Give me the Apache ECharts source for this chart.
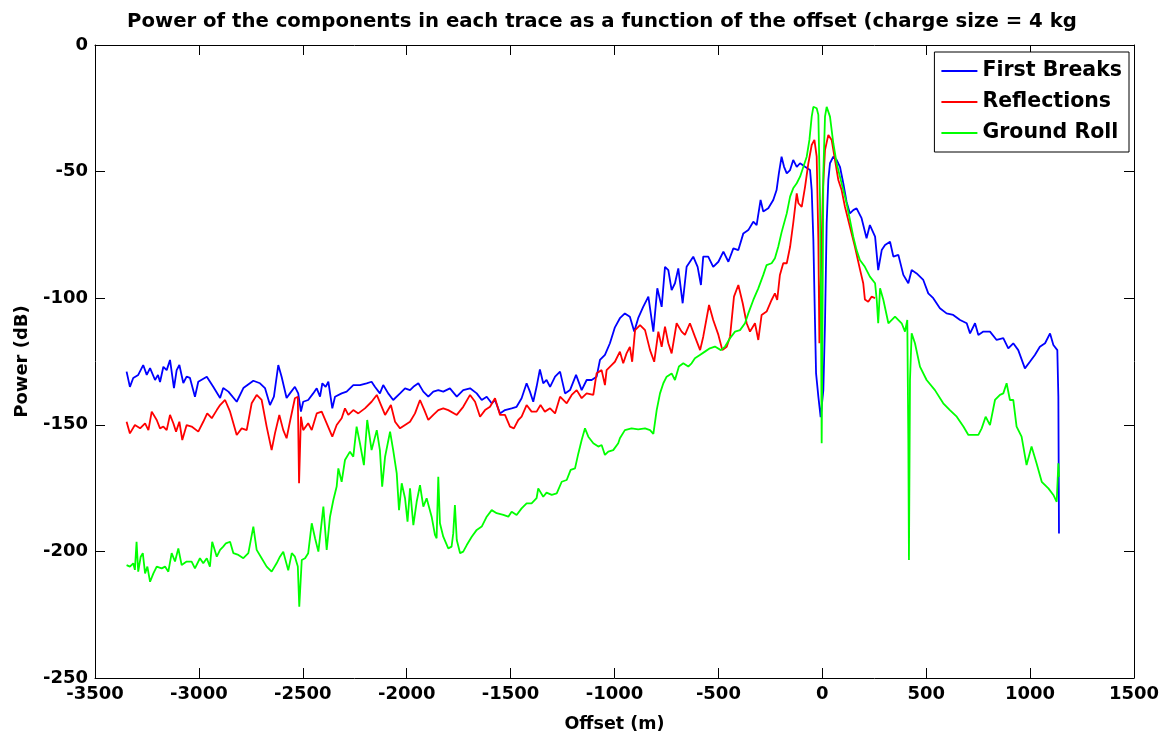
<!DOCTYPE html>
<html>
<head>
<meta charset="utf-8">
<script src="https://cdn.jsdelivr.net/npm/echarts@6/dist/echarts.min.js"></script>
<style>
html,body{margin:0;padding:0;background:#fff;}
#chart{width:1169px;height:745px;}
</style>
</head>
<body>
<div id="chart"></div>
<script>
// ---- Data (offset in m, power in dB) ----
var seriesNames = ['First Breaks', 'Reflections', 'Ground Roll'];
var xTicks = [-3500, -3000, -2500, -2000, -1500, -1000, -500, 0, 500, 1000, 1500];
var yTicks = [-250, -200, -150, -100, -50, 0];

var fbOffset = [-3348,-3332,-3316,-3292,-3268,-3251,-3235,-3211,-3197,-3187,-3171,-3155,-3139,-3120,-3107,-3094,-3075,-3059,-3043,-3019,-3003,-2962,-2931,-2898,-2883,-2858,-2818,-2786,-2738,-2706,-2682,-2658,-2639,-2618,-2602,-2578,-2562,-2538,-2522,-2509,-2498,-2474,-2450,-2433,-2417,-2406,-2390,-2377,-2358,-2345,-2313,-2289,-2257,-2225,-2193,-2169,-2153,-2129,-2113,-2089,-2065,-2032,-2008,-1984,-1968,-1944,-1920,-1896,-1872,-1848,-1824,-1792,-1759,-1728,-1695,-1663,-1639,-1615,-1591,-1575,-1551,-1527,-1495,-1471,-1447,-1423,-1407,-1391,-1375,-1359,-1343,-1327,-1310,-1286,-1262,-1238,-1214,-1185,-1158,-1134,-1110,-1086,-1070,-1046,-1022,-998,-974,-950,-926,-905,-886,-862,-837,-813,-794,-773,-757,-741,-725,-709,-693,-672,-653,-621,-600,-584,-573,-549,-525,-500,-476,-452,-428,-404,-380,-356,-332,-316,-297,-284,-260,-236,-220,-209,-196,-184,-171,-155,-140,-123,-107,-83,-59,-51,-43,-35,-30,-19,-8,5,13,21,29,37,53,69,85,101,117,133,149,165,189,213,229,254,269,286,302,326,342,366,390,414,430,454,486,510,534,566,598,630,663,695,711,735,751,775,807,839,871,895,919,943,975,999,1023,1047,1072,1096,1112,1131,1136,1139];
var fbPower = [-129.0,-135.0,-131.5,-130.3,-126.4,-130.3,-127.6,-132.3,-130.3,-133.1,-127.1,-128.4,-124.4,-135.5,-128.4,-126.4,-133.5,-131.0,-131.5,-138.9,-133.0,-131.0,-135.0,-139.4,-135.5,-136.9,-140.9,-135.5,-132.6,-133.6,-135.5,-142.2,-138.9,-126.4,-131.0,-139.4,-137.6,-135.0,-137.6,-144.8,-140.9,-140.2,-137.6,-135.6,-138.9,-133.6,-135.0,-133.0,-143.5,-138.9,-137.6,-136.9,-134.3,-134.3,-133.6,-133.0,-135.0,-137.6,-134.3,-137.6,-140.2,-137.6,-135.6,-136.3,-135.0,-133.6,-136.9,-138.9,-136.9,-136.3,-136.9,-135.6,-138.9,-136.3,-135.6,-137.6,-140.2,-138.9,-141.5,-140.2,-145.5,-144.2,-143.5,-142.9,-139.5,-133.6,-136.9,-140.9,-135.0,-128.1,-133.6,-132.3,-135.0,-131.0,-129.0,-137.6,-136.3,-130.3,-136.3,-132.3,-132.3,-131.0,-124.4,-122.4,-117.8,-111.5,-107.9,-106.0,-107.3,-113.2,-107.9,-103.4,-99.4,-113.2,-96.1,-103.4,-87.6,-88.9,-96.8,-94.1,-88.2,-102.0,-87.6,-83.6,-87.6,-94.8,-83.6,-83.6,-87.6,-85.6,-81.6,-85.6,-80.3,-81.0,-74.4,-73.1,-69.8,-71.1,-61.2,-65.8,-64.5,-61.2,-57.3,-50.7,-44.1,-48.1,-50.7,-49.4,-45.4,-48.1,-46.7,-48.1,-49.4,-57.3,-77.0,-109.9,-129.7,-138.9,-147.0,-136.3,-109.9,-70.4,-53.3,-46.7,-44.1,-45.4,-48.1,-54.6,-62.0,-66.5,-65.2,-64.5,-68.4,-76.3,-71.1,-75.7,-88.9,-81.0,-79.0,-77.7,-83.6,-82.9,-90.8,-94.1,-88.9,-90.2,-92.8,-98.1,-100.0,-104.0,-106.0,-106.6,-108.6,-109.9,-113.9,-109.9,-114.5,-113.2,-113.2,-116.5,-115.8,-119.8,-117.8,-120.5,-127.7,-125.1,-122.4,-119.2,-117.8,-113.9,-118.5,-120.5,-138.9,-192.9];

var rfOffset = [-3348,-3332,-3308,-3283,-3259,-3243,-3227,-3203,-3187,-3171,-3155,-3139,-3123,-3110,-3094,-3080,-3059,-3035,-3003,-2979,-2960,-2938,-2914,-2898,-2874,-2850,-2818,-2794,-2770,-2746,-2722,-2698,-2674,-2650,-2634,-2613,-2594,-2578,-2562,-2538,-2524,-2518,-2509,-2498,-2474,-2457,-2433,-2409,-2385,-2358,-2337,-2313,-2297,-2281,-2257,-2233,-2201,-2169,-2144,-2120,-2104,-2076,-2056,-2032,-2008,-1984,-1960,-1936,-1915,-1896,-1872,-1848,-1824,-1800,-1759,-1728,-1695,-1671,-1647,-1623,-1599,-1575,-1551,-1527,-1503,-1484,-1463,-1447,-1423,-1399,-1375,-1356,-1335,-1310,-1286,-1262,-1230,-1206,-1182,-1158,-1134,-1102,-1086,-1062,-1046,-1038,-1014,-998,-974,-958,-942,-926,-915,-901,-877,-853,-829,-809,-789,-773,-757,-741,-725,-701,-677,-661,-637,-613,-588,-573,-545,-525,-500,-481,-460,-444,-425,-404,-383,-364,-348,-324,-308,-292,-268,-244,-228,-217,-204,-188,-171,-155,-140,-123,-115,-99,-83,-67,-51,-38,-27,-19,-14,-7,3,13,29,45,61,77,93,109,133,157,181,197,205,221,237,254];
var rfPower = [-148.8,-153.4,-150.1,-151.4,-149.4,-152.1,-144.8,-148.1,-151.4,-150.7,-152.1,-146.1,-149.4,-152.7,-148.8,-156.0,-150.1,-150.7,-152.7,-148.8,-145.5,-147.4,-144.2,-142.2,-140.2,-144.8,-154.0,-151.4,-152.1,-141.5,-138.2,-140.2,-150.7,-160.0,-153.4,-146.1,-152.1,-155.3,-148.8,-139.5,-138.9,-173.1,-146.8,-152.1,-149.4,-152.1,-145.5,-144.8,-149.4,-154.7,-150.1,-147.4,-143.5,-146.1,-144.2,-145.5,-143.5,-140.9,-138.2,-142.9,-146.1,-142.2,-148.8,-151.4,-150.1,-148.8,-145.5,-140.2,-144.2,-148.1,-146.1,-144.2,-143.5,-144.2,-146.1,-142.9,-138.2,-140.9,-146.8,-144.2,-142.9,-139.5,-146.1,-146.1,-150.7,-151.4,-148.1,-146.8,-142.2,-144.8,-144.8,-142.2,-144.8,-143.5,-145.5,-138.9,-141.5,-138.2,-136.3,-139.5,-137.6,-138.2,-129.6,-128.4,-134.3,-128.4,-126.4,-125.1,-121.1,-125.7,-121.8,-119.2,-125.1,-112.6,-110.6,-112.6,-120.5,-125.1,-113.2,-119.2,-111.2,-117.8,-121.8,-109.9,-113.2,-114.5,-109.9,-115.2,-120.5,-115.2,-102.7,-108.6,-114.5,-120.5,-119.2,-115.2,-99.4,-94.8,-102.0,-109.9,-113.2,-109.9,-116.5,-106.6,-105.3,-100.7,-98.1,-100.7,-90.8,-86.2,-86.2,-79.7,-70.4,-58.6,-62.5,-63.9,-56.0,-46.7,-39.5,-37.5,-44.1,-77.0,-117.8,-91.5,-57.3,-41.5,-35.5,-37.5,-45.4,-53.3,-57.3,-63.9,-71.8,-79.7,-88.5,-94.1,-100.5,-101.4,-99.4,-100.0];

var grOffset = [-3348,-3332,-3316,-3308,-3300,-3292,-3280,-3270,-3259,-3248,-3235,-3219,-3203,-3179,-3163,-3147,-3131,-3115,-3099,-3083,-3059,-3035,-3019,-2995,-2979,-2962,-2947,-2936,-2914,-2898,-2883,-2870,-2850,-2834,-2810,-2786,-2762,-2738,-2722,-2698,-2674,-2650,-2626,-2610,-2594,-2570,-2553,-2538,-2524,-2517,-2505,-2489,-2474,-2457,-2441,-2425,-2401,-2385,-2369,-2353,-2337,-2329,-2313,-2297,-2273,-2257,-2241,-2225,-2206,-2190,-2169,-2144,-2129,-2118,-2104,-2080,-2065,-2048,-2037,-2024,-2008,-1996,-1984,-1968,-1952,-1936,-1920,-1904,-1880,-1864,-1856,-1848,-1840,-1824,-1800,-1784,-1776,-1768,-1759,-1743,-1728,-1711,-1687,-1663,-1639,-1615,-1591,-1567,-1535,-1511,-1495,-1471,-1447,-1423,-1399,-1375,-1367,-1343,-1327,-1302,-1278,-1254,-1230,-1211,-1190,-1174,-1158,-1142,-1126,-1102,-1078,-1062,-1046,-1030,-1006,-982,-974,-950,-918,-886,-853,-829,-813,-797,-781,-765,-749,-725,-709,-690,-669,-645,-629,-613,-589,-565,-541,-517,-488,-468,-444,-420,-396,-372,-356,-332,-308,-284,-268,-244,-228,-212,-196,-171,-155,-140,-123,-107,-91,-75,-62,-51,-43,-27,-19,-11,-6,-3,0,5,13,21,37,53,69,85,101,117,133,149,165,181,205,229,254,262,269,278,294,318,350,382,398,409,414,417,422,430,446,470,502,542,582,614,647,679,703,751,767,786,807,831,855,871,887,903,919,935,959,983,1007,1031,1056,1088,1112,1128,1136,1139];
var grPower = [-205.4,-206.0,-204.7,-207.3,-196.2,-208.0,-202.1,-200.7,-208.7,-206.0,-212.0,-208.7,-206.0,-206.7,-206.0,-208.0,-200.7,-204.0,-198.8,-205.4,-204.0,-204.0,-206.7,-202.7,-204.7,-202.7,-206.0,-196.2,-202.1,-199.4,-198.1,-196.8,-196.2,-200.7,-201.4,-202.7,-200.7,-190.2,-199.4,-202.7,-206.0,-208.0,-204.7,-202.1,-200.1,-207.5,-200.7,-202.1,-206.0,-221.8,-203.4,-202.7,-200.7,-188.9,-194.8,-200.1,-182.3,-199.4,-186.3,-179.7,-174.4,-167.2,-172.5,-163.9,-160.6,-162.6,-150.7,-157.3,-165.9,-148.1,-160.0,-152.1,-160.0,-174.4,-162.6,-152.7,-160.0,-169.2,-183.7,-173.1,-179.0,-188.3,-175.1,-189.6,-180.4,-173.8,-182.3,-179.0,-186.3,-193.5,-194.8,-170.5,-188.9,-194.2,-198.8,-198.1,-192.9,-181.7,-195.5,-200.7,-200.1,-197.5,-194.2,-191.5,-190.2,-186.3,-183.7,-184.9,-185.6,-186.3,-184.3,-185.6,-183.0,-181.0,-181.0,-179.0,-175.1,-178.4,-176.8,-177.7,-177.1,-172.5,-171.8,-167.8,-167.2,-161.3,-156.0,-151.4,-154.7,-157.3,-158.6,-158.0,-161.9,-160.6,-160.0,-157.3,-155.3,-152.1,-151.4,-151.8,-151.4,-152.1,-153.6,-144.2,-137.6,-133.6,-131.0,-129.7,-132.3,-127.0,-125.7,-127.0,-125.7,-123.7,-122.4,-121.1,-119.8,-119.1,-120.5,-119.1,-115.8,-113.2,-112.6,-109.9,-106.0,-100.7,-96.1,-90.8,-86.9,-86.2,-84.2,-79.7,-74.0,-66.5,-59.9,-56.6,-54.6,-52.0,-48.1,-44.1,-37.5,-28.3,-24.4,-25.0,-27.6,-61.2,-109.9,-157.3,-123.1,-50.7,-28.3,-24.4,-28.3,-38.8,-46.7,-52.0,-57.3,-62.5,-69.1,-75.7,-81.0,-84.9,-87.6,-91.5,-94.1,-100.7,-109.9,-96.1,-100.7,-109.9,-107.3,-109.9,-113.2,-108.6,-156.0,-203.4,-132.3,-113.9,-117.8,-127.0,-132.3,-136.3,-141.5,-144.2,-146.8,-150.7,-154.0,-154.0,-151.4,-146.8,-150.1,-140.2,-138.2,-137.6,-133.6,-140.2,-140.2,-150.7,-154.7,-165.9,-158.6,-165.2,-172.5,-175.1,-177.7,-180.4,-165.2,-170.5];

function pairs(xs, ys) {
  var out = [];
  for (var i = 0; i < xs.length; i++) out.push([xs[i], ys[i]]);
  return out;
}

var FONT = '"DejaVu Sans", "Liberation Sans", Arial, sans-serif';
var chart = echarts.init(document.getElementById('chart'), null, {renderer: 'canvas'});

function axisCommon() {
  return {
    axisLine: {show: true, onZero: false, lineStyle: {color: '#000', width: 1}},
    axisTick: {show: true, inside: true, length: 10, lineStyle: {color: '#000', width: 1}},
    splitLine: {show: false}
  };
}
function plain(v) { return String(v); }

chart.setOption({
  animation: false,
  backgroundColor: '#fff',
  title: {
    text: 'Power of the components in each trace as a function of the offset (charge size = 4 kg',
    left: 122,
    top: 7,
    textStyle: {fontFamily: FONT, fontSize: 19.7, fontWeight: 'bold', color: '#000'}
  },
  legend: {
    orient: 'vertical',
    right: 40,
    top: 52,
    backgroundColor: '#fff',
    borderColor: '#000',
    borderWidth: 1,
    borderRadius: 0,
    padding: [8, 7, 8, 7],
    itemWidth: 36,
    itemHeight: 2,
    itemGap: 9,
    icon: 'rect',
    textStyle: {fontFamily: FONT, fontSize: 20.5, fontWeight: 'bold', color: '#000', lineHeight: 22},
    data: seriesNames
  },
  grid: {left: 95, right: 35, top: 45, bottom: 67, containLabel: false},
  xAxis: [
    Object.assign(axisCommon(), {
      type: 'value', min: xTicks[0], max: xTicks[xTicks.length - 1], interval: 500,
      position: 'bottom',
      name: 'Offset (m)', nameLocation: 'middle', nameGap: 37,
      nameTextStyle: {fontFamily: FONT, fontSize: 17.5, fontWeight: 'bold', color: '#000'},
      axisLabel: {fontFamily: FONT, fontSize: 18, fontWeight: 'bold', color: '#000', margin: 7, formatter: plain}
    }),
    Object.assign(axisCommon(), {
      type: 'value', min: xTicks[0], max: xTicks[xTicks.length - 1], interval: 500,
      position: 'top', axisLabel: {show: false}
    })
  ],
  yAxis: [
    Object.assign(axisCommon(), {
      type: 'value', min: yTicks[0], max: yTicks[yTicks.length - 1], interval: 50,
      position: 'left',
      name: 'Power (dB)', nameLocation: 'middle', nameGap: 64,
      nameTextStyle: {fontFamily: FONT, fontSize: 18, fontWeight: 'bold', color: '#000'},
      axisLabel: {fontFamily: FONT, fontSize: 18, fontWeight: 'bold', color: '#000', margin: 7, formatter: plain}
    }),
    Object.assign(axisCommon(), {
      type: 'value', min: yTicks[0], max: yTicks[yTicks.length - 1], interval: 50,
      position: 'right', axisLabel: {show: false}
    })
  ],
  series: [
    {name: seriesNames[0], type: 'line', data: pairs(fbOffset, fbPower), showSymbol: false,
     lineStyle: {color: '#0000ff', width: 1.8}, itemStyle: {color: '#0000ff'}, z: 3},
    {name: seriesNames[1], type: 'line', data: pairs(rfOffset, rfPower), showSymbol: false,
     lineStyle: {color: '#ff0000', width: 1.8}, itemStyle: {color: '#ff0000'}, z: 4},
    {name: seriesNames[2], type: 'line', data: pairs(grOffset, grPower), showSymbol: false,
     lineStyle: {color: '#00ff00', width: 1.8}, itemStyle: {color: '#00ff00'}, z: 5}
  ]
});
</script>
</body>
</html>
